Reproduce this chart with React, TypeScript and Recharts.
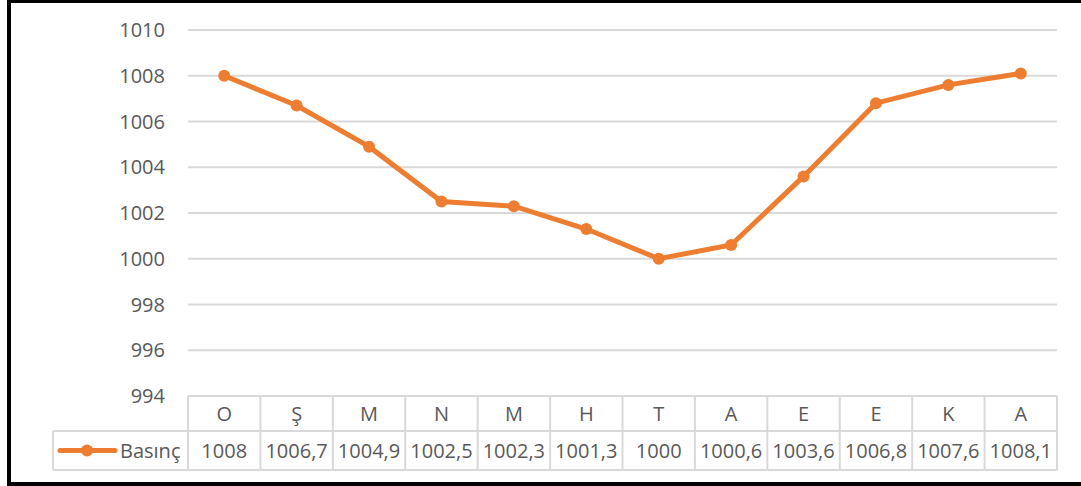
import { LineChart, Line, XAxis, YAxis, CartesianGrid } from 'recharts';

const months = ['O', 'Ş', 'M', 'N', 'M', 'H', 'T', 'A', 'E', 'E', 'K', 'A'];
const pressure = [1008, 1006.7, 1004.9, 1002.5, 1002.3, 1001.3, 1000, 1000.6, 1003.6, 1006.8, 1007.6, 1008.1];
const yTicks = [994, 996, 998, 1000, 1002, 1004, 1006, 1008, 1010];
const seriesName = 'Basınç';

const data = months.map((m, i) => ({ idx: i, month: m, value: pressure[i] }));

const ORANGE = '#ed7d31';
const GRID = '#d9d9d9';
const TEXT = '#595959';
const FONT = '"Open Sans", sans-serif';

const W = 1081;
const H = 486;
const PLOT_LEFT = 188;
const PLOT_RIGHT = 24;
const BAND = (W - PLOT_LEFT - PLOT_RIGHT) / months.length;
const ROW1 = 35;
const ROW2 = 39;

const fmt = (v: number) => String(v).replace('.', ',');

function TableTick(props: any) {
  const { x, y, index } = props;
  const left = x - BAND / 2;
  const right = x + BAND / 2;
  const last = index === months.length - 1;
  return (
    <g>
      <line x1={left} y1={y} x2={left} y2={y + ROW1 + ROW2} stroke={GRID} strokeWidth={2} />
      {last && <line x1={right} y1={y} x2={right} y2={y + ROW1 + ROW2} stroke={GRID} strokeWidth={2} />}
      <line x1={left} y1={y + ROW1} x2={right} y2={y + ROW1} stroke={GRID} strokeWidth={2} />
      <line x1={left} y1={y + ROW1 + ROW2} x2={right} y2={y + ROW1 + ROW2} stroke={GRID} strokeWidth={2} />
      <text x={x} y={y + ROW1 / 2} textAnchor="middle" dominantBaseline="central" fill={TEXT} fontSize={20} fontFamily={FONT}>
        {months[index]}
      </text>
      <text x={x} y={y + ROW1 + ROW2 / 2} textAnchor="middle" dominantBaseline="central" fill={TEXT} fontSize={20} fontFamily={FONT}>
        {fmt(pressure[index])}
      </text>
      {index === 0 && (
        <g>
          <line x1={53} y1={y + ROW1} x2={left} y2={y + ROW1} stroke={GRID} strokeWidth={2} />
          <line x1={53} y1={y + ROW1 + ROW2} x2={left} y2={y + ROW1 + ROW2} stroke={GRID} strokeWidth={2} />
          <line x1={53} y1={y + ROW1} x2={53} y2={y + ROW1 + ROW2} stroke={GRID} strokeWidth={2} />
          <line x1={60} y1={y + ROW1 + ROW2 / 2} x2={115} y2={y + ROW1 + ROW2 / 2} stroke={ORANGE} strokeWidth={5} strokeLinecap="round" />
          <circle cx={87} cy={y + ROW1 + ROW2 / 2} r={6} fill={ORANGE} />
          <text x={120} y={y + ROW1 + ROW2 / 2} dominantBaseline="central" fill={TEXT} fontSize={20} fontFamily={FONT}>
            {seriesName}
          </text>
        </g>
      )}
    </g>
  );
}

export default function App() {
  return (
    <div style={{ position: 'absolute', left: 0, top: 0, width: W, height: H, background: '#fff', overflow: 'hidden' }}>
      <LineChart width={W} height={H} data={data} margin={{ top: 30, right: PLOT_RIGHT, bottom: 0, left: 0 }}>
        <CartesianGrid vertical={false} stroke={GRID} strokeWidth={2} />
        <XAxis
          dataKey="idx"
          type="category"
          axisLine={false}
          tickLine={false}
          tickSize={0}
          tickMargin={0}
          height={90}
          interval={0}
          padding={{ left: BAND / 2, right: BAND / 2 }}
          tick={<TableTick />}
        />
        <YAxis
          domain={[994, 1010]}
          ticks={yTicks}
          width={PLOT_LEFT}
          axisLine={false}
          tickLine={false}
          tickSize={0}
          tickMargin={23}
          interval={0}
          tick={{ fill: TEXT, fontSize: 20, fontFamily: FONT }}
        />
        <Line
          dataKey="value"
          stroke={ORANGE}
          strokeWidth={5}
          dot={{ r: 6, fill: ORANGE, stroke: ORANGE, strokeWidth: 0 }}
          activeDot={false}
          isAnimationActive={false}
        />
      </LineChart>
      <div style={{ position: 'absolute', left: 7, top: 0, width: W, height: 3, background: '#000' }} />
      <div style={{ position: 'absolute', left: 7, top: 0, width: 4, height: H, background: '#000' }} />
      <div style={{ position: 'absolute', left: 7, top: H - 4, width: W, height: 4, background: '#000' }} />
    </div>
  );
}
